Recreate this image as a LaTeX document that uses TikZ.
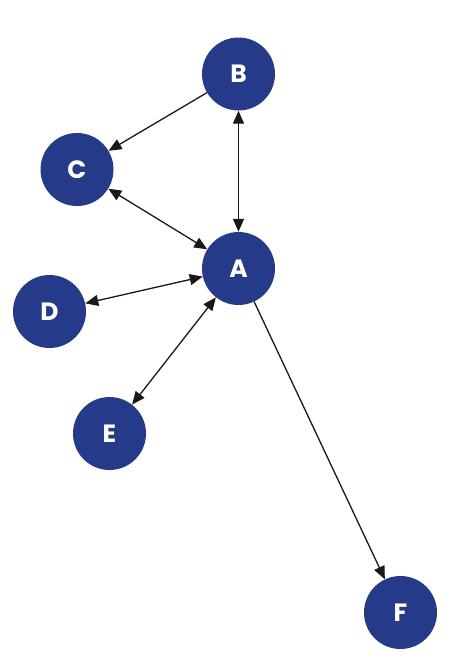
\documentclass[tikz,border=0pt]{standalone}
\usepackage{fontspec}
\setmainfont{Poppins}
\usetikzlibrary{arrows.meta}
\definecolor{nodeblue}{RGB}{38,58,138}
\definecolor{edgecol}{RGB}{25,25,25}
\begin{document}
\begin{tikzpicture}[x=1pt,y=-1pt,
  vert/.style={circle,fill=nodeblue,draw=none,minimum size=73pt,inner sep=0pt,
    text=white,font=\fontsize{25}{25}\selectfont\bfseries},
  link/.style={draw=edgecol,line width=1.3pt,
    arrows={-Triangle[length=13pt,width=11pt]}},
  blink/.style={draw=edgecol,line width=1.3pt,
    arrows={Triangle[length=13pt,width=11pt]-Triangle[length=13pt,width=11pt]}}]
\useasboundingbox (0,0) rectangle (456,664);
\node[vert] (B) at (238.5,74) {B};
\node[vert] (C) at (77,169.5) {C};
\node[vert] (A) at (238.5,268.5) {A};
\node[vert] (D) at (49.5,311.5) {D};
\node[vert] (E) at (109.5,433.5) {E};
\node[vert] (F) at (400.5,612.5) {F};
\draw[link] (B) -- (C);
\draw[blink] (B) -- (A);
\draw[blink] (C) -- (A);
\draw[blink] (D) -- (A);
\draw[blink] (E) -- (A);
\draw[link] (A) -- (F);
\end{tikzpicture}
\end{document}
